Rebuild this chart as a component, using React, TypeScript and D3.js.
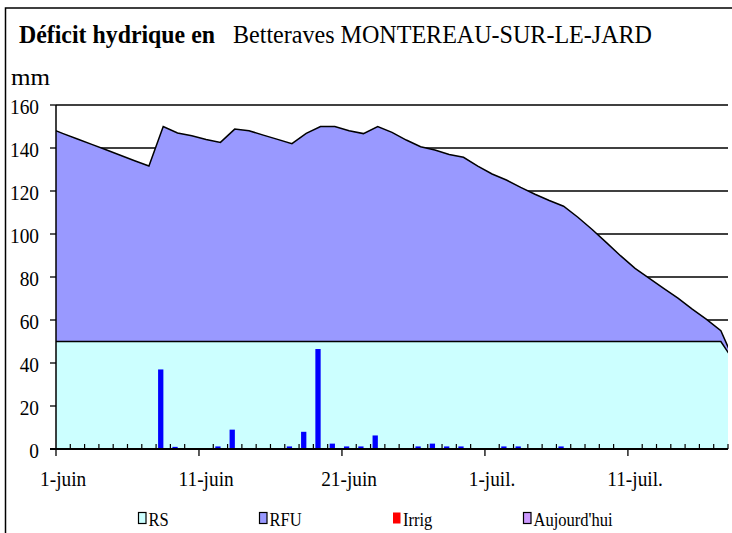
import React, { useEffect, useRef } from 'react'
import * as d3 from 'd3'

// daily categories, 31 mai -> 18 juil. (first and last are clipped at the plot edges)
const firstDay = '2009-05-31'
const lastDay = '2009-07-18'

const rsValues = [
  50, 50, 50, 50, 50, 50, 50, 50, 50, 50,
  50, 50, 50, 50, 50, 50, 50, 50, 50, 50,
  50, 50, 50, 50, 50, 50, 50, 50, 50, 50,
  50, 50, 50, 50, 50, 50, 50, 50, 50, 50,
  50, 50, 50, 50, 50, 50, 50, 50, 40,
]

const rfuValues = [
  99.3, 96.7, 94.2, 91.7, 89.2, 86.6, 84.1, 81.6, 100, 97,
  95.7, 94, 92.6, 98.8, 98, 96, 94, 92, 96.8, 100,
  100, 98, 96.7, 100, 97.3, 93.7, 90.6, 89.1, 87, 85.7,
  81.6, 77.9, 75.1, 71.7, 68.5, 65.6, 62.9, 57.8, 52.1, 46,
  39.8, 34, 29.4, 24.7, 20.2, 15.1, 10.3, 5, 0,
]

const rainValues = [
  0, 0, 0, 0, 0, 0, 0, 0, 37, 1,
  0, 0, 1.2, 9, 0, 0, 0, 1.2, 8, 46.5,
  2.5, 1.2, 1.2, 6.3, 0, 0, 1.2, 2.5, 1.2, 1.2,
  0, 0, 1.2, 1.2, 0, 0, 1.2, 0, 0, 0,
  0, 0, 0, 0, 0, 0, 0, 0, 0,
]

const irrigValues: number[] = [] // pas d'irrigation sur la période

const yTicks = [0, 20, 40, 60, 80, 100, 120, 140, 160]
const xTickDates = ['2009-06-01', '2009-06-11', '2009-06-21', '2009-07-01', '2009-07-11']
const xTickLabels = ['1-juin', '11-juin', '21-juin', '1-juil.', '11-juil.']

const legendLabels = ['RS', 'RFU', 'Irrig', "Aujourd'hui"]
const legendColors = ['#CCFFFF', '#9999FF', '#FF0000', '#CC99FF']

const FONT = 'Liberation Serif'

export default function App() {
  const svgRef = useRef<SVGSVGElement | null>(null)

  useEffect(() => {
    if (!svgRef.current) return
    const svg = d3.select(svgRef.current)
    svg.selectAll('*').remove()

    const left = 56, right = 728, top = 105, bottom = 449
    const parse = d3.utcParse('%Y-%m-%d')
    const dates = d3.utcDay.range(parse(firstDay)!, d3.utcDay.offset(parse(lastDay)!, 1))

    const x = d3.scaleUtc()
      .domain([parse('2009-06-01')!, parse('2009-07-18')!])
      .range([left, right])
    const dayW = x(parse('2009-06-02')!) - x(parse('2009-06-01')!)
    const cx = (d: Date) => x(d) + dayW / 2
    const y = d3.scaleLinear().domain([0, 160]).range([bottom, top])

    const squeeze = (sel: any, k: number) =>
      sel.each(function (this: SVGTextElement) {
        const len = this.getComputedTextLength()
        d3.select(this).attr('textLength', len * k).attr('lengthAdjust', 'spacingAndGlyphs')
      })

    // frame
    svg.append('rect')
      .attr('x', 5.5).attr('y', 8).attr('width', 800).attr('height', 600)
      .attr('fill', 'none').attr('stroke', '#000').attr('stroke-width', 1.5)

    // title
    svg.append('text')
      .attr('x', 19).attr('y', 43)
      .style('font-family', FONT).attr('font-size', 25).attr('font-weight', 'bold')
      .attr('textLength', 196).attr('lengthAdjust', 'spacingAndGlyphs')
      .text('Déficit hydrique en')
    svg.append('text')
      .attr('x', 233).attr('y', 43)
      .style('font-family', FONT).attr('font-size', 25)
      .attr('textLength', 419).attr('lengthAdjust', 'spacingAndGlyphs')
      .text('Betteraves MONTEREAU-SUR-LE-JARD')
    svg.append('text')
      .attr('x', 11).attr('y', 85)
      .style('font-family', FONT).attr('font-size', 23)
      .attr('textLength', 39).attr('lengthAdjust', 'spacingAndGlyphs')
      .text('mm')

    // gridlines
    svg.append('g').selectAll('line')
      .data(yTicks.filter(t => t > 0))
      .join('line')
      .attr('x1', left).attr('x2', right)
      .attr('y1', d => y(d)).attr('y2', d => y(d))
      .attr('stroke', '#000').attr('stroke-width', 1.3)

    // stacked areas
    svg.append('clipPath').attr('id', 'plot-clip')
      .append('rect').attr('x', left).attr('y', 0).attr('width', right - left).attr('height', bottom + 1)

    const rows = dates.map((d, i) => ({ d, rs: rsValues[i], rfu: rfuValues[i], rain: rainValues[i] }))
    const plot = svg.append('g').attr('clip-path', 'url(#plot-clip)')

    plot.append('path')
      .datum(rows)
      .attr('d', d3.area<any>().x(r => cx(r.d)).y0(r => y(r.rs)).y1(r => y(r.rs + r.rfu)))
      .attr('fill', '#9999FF')
    plot.append('path')
      .datum(rows)
      .attr('d', d3.area<any>().x(r => cx(r.d)).y0(y(0)).y1(r => y(r.rs)))
      .attr('fill', '#CCFFFF')
    plot.append('path')
      .datum(rows)
      .attr('d', d3.line<any>().x(r => cx(r.d)).y(r => y(r.rs + r.rfu)))
      .attr('fill', 'none').attr('stroke', '#000').attr('stroke-width', 1.5)
    plot.append('path')
      .datum(rows)
      .attr('d', d3.line<any>().x(r => cx(r.d)).y(r => y(r.rs)))
      .attr('fill', 'none').attr('stroke', '#000').attr('stroke-width', 1.5)

    // rain bars
    plot.append('g').selectAll('rect')
      .data(rows.filter(r => r.rain > 0))
      .join('rect')
      .attr('x', r => x(r.d) + dayW * 0.14)
      .attr('width', dayW * 0.37)
      .attr('y', r => y(r.rain))
      .attr('height', r => y(0) - y(r.rain))
      .attr('fill', '#0000FF')

    // irrigation bars (none)
    plot.append('g').selectAll('rect')
      .data(irrigValues.map((v, i) => ({ d: dates[i], v })).filter(r => r.v > 0))
      .join('rect')
      .attr('x', r => x(r.d) + dayW * 0.5)
      .attr('width', dayW * 0.37)
      .attr('y', r => y(r.v))
      .attr('height', r => y(0) - y(r.v))
      .attr('fill', '#FF0000')

    // y axis
    svg.append('line')
      .attr('x1', left).attr('x2', left).attr('y1', top).attr('y2', bottom)
      .attr('stroke', '#000').attr('stroke-width', 1.5)
    svg.append('g').selectAll('line')
      .data(yTicks)
      .join('line')
      .attr('x1', left - 6).attr('x2', left)
      .attr('y1', d => y(d)).attr('y2', d => y(d))
      .attr('stroke', '#000').attr('stroke-width', 1.3)
    squeeze(svg.append('g').selectAll('text')
      .data(yTicks)
      .join('text')
      .attr('x', 39).attr('y', d => y(d) + 9)
      .attr('text-anchor', 'end')
      .style('font-family', FONT).attr('font-size', 22)
      .text(d => String(d)), 0.88)

    // x axis
    const majors = xTickDates.map(s => parse(s)!)
    const majorSet = new Set(majors.map(d => +d))
    const dayTicks = d3.utcDay.range(parse('2009-06-02')!, d3.utcDay.offset(parse('2009-07-18')!, 1))
    svg.append('g').selectAll('line')
      .data(dayTicks.filter(d => !majorSet.has(+d)))
      .join('line')
      .attr('x1', d => x(d)).attr('x2', d => x(d))
      .attr('y1', bottom - 5).attr('y2', bottom)
      .attr('stroke', '#000').attr('stroke-width', 1.2)
    svg.append('g').selectAll('line')
      .data(majors)
      .join('line')
      .attr('x1', d => x(d)).attr('x2', d => x(d))
      .attr('y1', bottom).attr('y2', bottom + 7)
      .attr('stroke', '#000').attr('stroke-width', 1.3)
    svg.append('line')
      .attr('x1', left - 6).attr('x2', right).attr('y1', bottom).attr('y2', bottom)
      .attr('stroke', '#000').attr('stroke-width', 2)
    squeeze(svg.append('g').selectAll('text')
      .data(majors)
      .join('text')
      .attr('x', d => cx(d)).attr('y', 486)
      .attr('text-anchor', 'middle')
      .style('font-family', FONT).attr('font-size', 21)
      .text((d, i) => xTickLabels[i]), 0.92)

    // legend
    const legendX = [138, 259, 392.5, 523]
    const lg = svg.append('g').selectAll('g')
      .data(legendLabels)
      .join('g')
      .attr('transform', (d, i) => `translate(${legendX[i]},512)`)
    lg.append('rect')
      .attr('x', 0.5).attr('y', 0.5).attr('width', 7.5).attr('height', 11)
      .attr('fill', (d, i) => legendColors[i])
      .attr('stroke', (d, i) => (i === 2 ? 'none' : '#000')).attr('stroke-width', 1.2)
    squeeze(lg.append('text')
      .attr('x', 10.5).attr('y', 14)
      .style('font-family', FONT).attr('font-size', 19)
      .text(d => d), 0.87)
  }, [])

  return (
    <svg
      ref={svgRef}
      width={732}
      height={533}
      style={{ position: 'absolute', left: 0, top: 0, background: '#fff', display: 'block', fontFamily: FONT }}
    />
  )
}
